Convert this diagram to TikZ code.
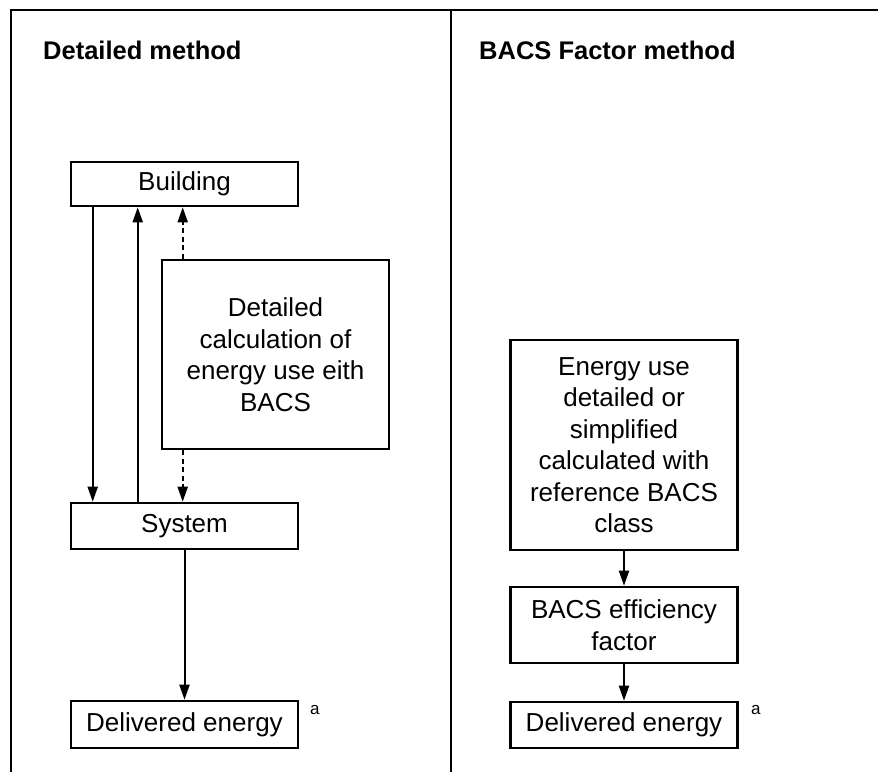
\documentclass[tikz,border=0pt]{standalone}
\usepackage{fontspec}
\setmainfont{Liberation Sans}
\usetikzlibrary{arrows.meta,calc}
\begin{document}
\begin{tikzpicture}[x=1pt,y=-1pt,
  box/.style={draw,line width=2.6pt,minimum width=227pt,inner sep=0pt,align=center,
    font=\fontsize{26}{31.5}\selectfont},
  arr/.style={line width=2pt,-{Triangle[length=15pt,width=10pt]}},
  dotarr/.style={arr,dash pattern=on 5pt off 3.5pt},
  ttl/.style={anchor=base west,inner sep=0pt,font=\fontsize{25.5}{30}\selectfont\bfseries},
  sup/.style={anchor=base west,inner sep=0pt,font=\fontsize{17}{20}\selectfont}]
\useasboundingbox (0,0) rectangle (878,772);
% frame
\coordinate (ftl) at (11,10);
\coordinate (ftr) at (878,10);
\coordinate (fbl) at (11,772);
\coordinate (fmt) at (451,10);
\coordinate (fmb) at (451,772);
\draw[line width=2.8pt] (fbl) -- (ftl) -- (ftr);
\draw[line width=2.8pt] (fmt) -- (fmb);
% titles
\node[ttl] (t1) at (43,59) {Detailed method};
\node[ttl] (t2) at (479,59) {BACS Factor method};
% left column
\node[box,minimum height=44pt] (bld) at (184.5,184) {Building};
\node[box,minimum height=189pt] (calc) at (275.5,354.5) {Detailed\\calculation of\\energy use eith\\BACS};
\node[box,minimum height=46pt] (sys) at (184.5,526) {System};
\node[box,minimum height=47pt] (delL) at (184.5,724.5) {Delivered energy};
\node[sup] (aL) at (310,714) {a};
\draw[arr] ([xshift=23pt]bld.south west) -- ([xshift=23pt]sys.north west);
\draw[arr] ([xshift=68pt]sys.north west) -- ([xshift=68pt]bld.south west);
\draw[dotarr] ([xshift=22pt]calc.north west) -- ([xshift=22pt]calc.north west |- bld.south);
\draw[dotarr] ([xshift=22pt]calc.south west) -- ([xshift=22pt]calc.south west |- sys.north);
\draw[arr] (sys.south) -- (delL.north);
% right column
\node[box,minimum height=210pt] (euse) at (624,445) {Energy use\\detailed or\\simplified\\calculated with\\reference BACS\\class};
\node[box,minimum height=76pt] (eff) at (624,625) {BACS efficiency\\factor};
\node[box,minimum height=46pt] (delR) at (624,725) {Delivered energy};
\node[sup] (aR) at (751,714) {a};
\draw[arr] (euse.south) -- (eff.north);
\draw[arr] (eff.south) -- (delR.north);
\end{tikzpicture}
\end{document}
